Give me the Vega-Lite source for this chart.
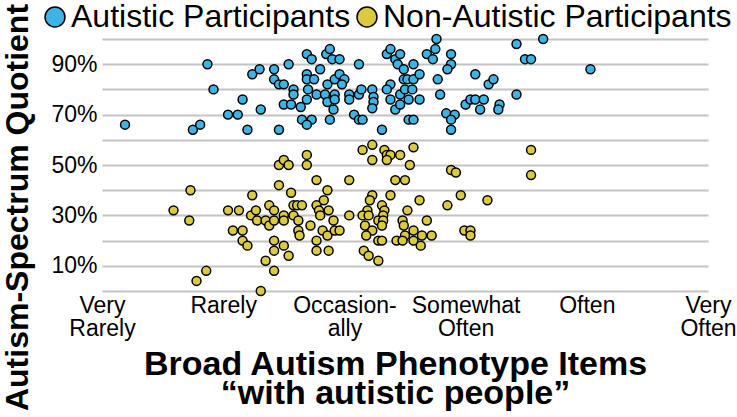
{
  "$schema": "https://vega.github.io/schema/vega-lite/v6.json",
  "width": 606,
  "height": 252,
  "autosize": {"type": "none"},
  "padding": {"left": 102, "top": 39, "right": 29, "bottom": 126},
  "background": "white",
  "config": {"view": {"stroke": null}, "font": "Liberation Sans"},
  "data": {"values": [
    {"group":"Autistic","bap":1.19,"aq":66},{"group":"Autistic","bap":1.75,"aq":64},{"group":"Autistic","bap":1.81,"aq":66},{"group":"Autistic","bap":1.87,"aq":90},{"group":"Autistic","bap":1.92,"aq":80},{"group":"Autistic","bap":2.04,"aq":70},{"group":"Autistic","bap":2.12,"aq":70},{"group":"Autistic","bap":2.16,"aq":76},{"group":"Autistic","bap":2.20,"aq":64},{"group":"Autistic","bap":2.24,"aq":86},{"group":"Autistic","bap":2.30,"aq":88},{"group":"Autistic","bap":2.31,"aq":72},{"group":"Autistic","bap":2.42,"aq":88},{"group":"Autistic","bap":2.42,"aq":84},{"group":"Autistic","bap":2.46,"aq":82},{"group":"Autistic","bap":2.50,"aq":82},{"group":"Autistic","bap":2.46,"aq":64},{"group":"Autistic","bap":2.54,"aq":90},{"group":"Autistic","bap":2.58,"aq":80},{"group":"Autistic","bap":2.58,"aq":78},{"group":"Autistic","bap":2.50,"aq":74},{"group":"Autistic","bap":2.56,"aq":74},{"group":"Autistic","bap":2.64,"aq":73},{"group":"Autistic","bap":2.69,"aq":94},{"group":"Autistic","bap":2.73,"aq":92},{"group":"Autistic","bap":2.69,"aq":86},{"group":"Autistic","bap":2.69,"aq":84},{"group":"Autistic","bap":2.75,"aq":84},{"group":"Autistic","bap":2.70,"aq":80},{"group":"Autistic","bap":2.69,"aq":76},{"group":"Autistic","bap":2.80,"aq":88},{"group":"Autistic","bap":2.77,"aq":78},{"group":"Autistic","bap":2.65,"aq":68},{"group":"Autistic","bap":2.73,"aq":68},{"group":"Autistic","bap":2.69,"aq":66},{"group":"Autistic","bap":2.85,"aq":94},{"group":"Autistic","bap":2.88,"aq":96},{"group":"Autistic","bap":2.90,"aq":92},{"group":"Autistic","bap":2.96,"aq":92},{"group":"Autistic","bap":2.86,"aq":82},{"group":"Autistic","bap":2.84,"aq":78},{"group":"Autistic","bap":2.86,"aq":75},{"group":"Autistic","bap":2.92,"aq":78},{"group":"Autistic","bap":2.92,"aq":76},{"group":"Autistic","bap":2.91,"aq":72},{"group":"Autistic","bap":2.88,"aq":68},{"group":"Autistic","bap":2.92,"aq":84},{"group":"Autistic","bap":2.96,"aq":86},{"group":"Autistic","bap":3.00,"aq":84},{"group":"Autistic","bap":2.98,"aq":82},{"group":"Autistic","bap":3.04,"aq":78},{"group":"Autistic","bap":3.04,"aq":76},{"group":"Autistic","bap":3.08,"aq":70},{"group":"Autistic","bap":3.12,"aq":68},{"group":"Autistic","bap":3.15,"aq":68},{"group":"Autistic","bap":3.12,"aq":90},{"group":"Autistic","bap":3.12,"aq":78},{"group":"Autistic","bap":3.14,"aq":80},{"group":"Autistic","bap":3.23,"aq":80},{"group":"Autistic","bap":3.24,"aq":77},{"group":"Autistic","bap":3.24,"aq":75},{"group":"Autistic","bap":3.23,"aq":72.5},{"group":"Autistic","bap":3.31,"aq":64},{"group":"Autistic","bap":3.35,"aq":94},{"group":"Autistic","bap":3.38,"aq":96},{"group":"Autistic","bap":3.42,"aq":92},{"group":"Autistic","bap":3.46,"aq":94},{"group":"Autistic","bap":3.44,"aq":90},{"group":"Autistic","bap":3.49,"aq":88},{"group":"Autistic","bap":3.38,"aq":82},{"group":"Autistic","bap":3.35,"aq":80},{"group":"Autistic","bap":3.38,"aq":76},{"group":"Autistic","bap":3.42,"aq":72},{"group":"Autistic","bap":3.46,"aq":74},{"group":"Autistic","bap":3.46,"aq":78},{"group":"Autistic","bap":3.49,"aq":84},{"group":"Autistic","bap":3.52,"aq":84},{"group":"Autistic","bap":3.57,"aq":84},{"group":"Autistic","bap":3.50,"aq":80},{"group":"Autistic","bap":3.56,"aq":80},{"group":"Autistic","bap":3.53,"aq":76},{"group":"Autistic","bap":3.62,"aq":76},{"group":"Autistic","bap":3.53,"aq":68},{"group":"Autistic","bap":3.57,"aq":68},{"group":"Autistic","bap":3.57,"aq":90},{"group":"Autistic","bap":3.62,"aq":86},{"group":"Autistic","bap":3.68,"aq":94},{"group":"Autistic","bap":3.73,"aq":92},{"group":"Autistic","bap":3.75,"aq":96},{"group":"Autistic","bap":3.76,"aq":100},{"group":"Autistic","bap":3.77,"aq":84},{"group":"Autistic","bap":3.79,"aq":78},{"group":"Autistic","bap":3.88,"aq":94},{"group":"Autistic","bap":3.88,"aq":90},{"group":"Autistic","bap":3.85,"aq":88},{"group":"Autistic","bap":3.84,"aq":70.5},{"group":"Autistic","bap":3.91,"aq":70},{"group":"Autistic","bap":3.88,"aq":68},{"group":"Autistic","bap":3.88,"aq":64},{"group":"Autistic","bap":4.08,"aq":86},{"group":"Autistic","bap":4.19,"aq":82},{"group":"Autistic","bap":4.23,"aq":84},{"group":"Autistic","bap":4.00,"aq":74},{"group":"Autistic","bap":4.04,"aq":76},{"group":"Autistic","bap":4.08,"aq":76},{"group":"Autistic","bap":4.15,"aq":76},{"group":"Autistic","bap":4.12,"aq":72},{"group":"Autistic","bap":4.28,"aq":74},{"group":"Autistic","bap":4.27,"aq":72},{"group":"Autistic","bap":4.42,"aq":98},{"group":"Autistic","bap":4.64,"aq":100},{"group":"Autistic","bap":4.49,"aq":92},{"group":"Autistic","bap":4.54,"aq":92},{"group":"Autistic","bap":4.42,"aq":78},{"group":"Autistic","bap":5.03,"aq":88},
    {"group":"Non-Autistic","bap":1.59,"aq":32},{"group":"Non-Autistic","bap":1.73,"aq":40},{"group":"Non-Autistic","bap":1.72,"aq":28},{"group":"Non-Autistic","bap":1.78,"aq":4},{"group":"Non-Autistic","bap":1.86,"aq":8},{"group":"Non-Autistic","bap":2.04,"aq":32},{"group":"Non-Autistic","bap":2.13,"aq":32},{"group":"Non-Autistic","bap":2.08,"aq":24},{"group":"Non-Autistic","bap":2.16,"aq":24},{"group":"Non-Autistic","bap":2.16,"aq":20},{"group":"Non-Autistic","bap":2.20,"aq":18},{"group":"Non-Autistic","bap":2.24,"aq":38},{"group":"Non-Autistic","bap":2.23,"aq":30},{"group":"Non-Autistic","bap":2.27,"aq":32},{"group":"Non-Autistic","bap":2.28,"aq":28},{"group":"Non-Autistic","bap":2.35,"aq":28},{"group":"Non-Autistic","bap":2.38,"aq":34},{"group":"Non-Autistic","bap":2.38,"aq":26},{"group":"Non-Autistic","bap":2.42,"aq":32},{"group":"Non-Autistic","bap":2.42,"aq":28},{"group":"Non-Autistic","bap":2.42,"aq":20},{"group":"Non-Autistic","bap":2.42,"aq":16},{"group":"Non-Autistic","bap":2.42,"aq":8},{"group":"Non-Autistic","bap":2.35,"aq":12},{"group":"Non-Autistic","bap":2.31,"aq":0},{"group":"Non-Autistic","bap":2.46,"aq":50},{"group":"Non-Autistic","bap":2.50,"aq":52},{"group":"Non-Autistic","bap":2.54,"aq":50},{"group":"Non-Autistic","bap":2.46,"aq":42},{"group":"Non-Autistic","bap":2.56,"aq":39},{"group":"Non-Autistic","bap":2.50,"aq":30},{"group":"Non-Autistic","bap":2.50,"aq":28},{"group":"Non-Autistic","bap":2.50,"aq":18},{"group":"Non-Autistic","bap":2.54,"aq":14},{"group":"Non-Autistic","bap":2.58,"aq":34},{"group":"Non-Autistic","bap":2.61,"aq":34},{"group":"Non-Autistic","bap":2.65,"aq":34},{"group":"Non-Autistic","bap":2.58,"aq":30},{"group":"Non-Autistic","bap":2.62,"aq":28},{"group":"Non-Autistic","bap":2.62,"aq":24},{"group":"Non-Autistic","bap":2.63,"aq":22},{"group":"Non-Autistic","bap":2.69,"aq":54},{"group":"Non-Autistic","bap":2.69,"aq":50},{"group":"Non-Autistic","bap":2.72,"aq":26},{"group":"Non-Autistic","bap":2.77,"aq":44},{"group":"Non-Autistic","bap":2.77,"aq":34},{"group":"Non-Autistic","bap":2.79,"aq":32},{"group":"Non-Autistic","bap":2.80,"aq":30},{"group":"Non-Autistic","bap":2.83,"aq":36},{"group":"Non-Autistic","bap":2.86,"aq":40},{"group":"Non-Autistic","bap":2.77,"aq":20},{"group":"Non-Autistic","bap":2.77,"aq":16},{"group":"Non-Autistic","bap":2.82,"aq":24},{"group":"Non-Autistic","bap":2.86,"aq":22},{"group":"Non-Autistic","bap":2.87,"aq":32},{"group":"Non-Autistic","bap":2.87,"aq":16},{"group":"Non-Autistic","bap":2.91,"aq":28},{"group":"Non-Autistic","bap":2.92,"aq":24},{"group":"Non-Autistic","bap":2.96,"aq":24},{"group":"Non-Autistic","bap":3.04,"aq":44},{"group":"Non-Autistic","bap":3.04,"aq":30},{"group":"Non-Autistic","bap":3.15,"aq":56},{"group":"Non-Autistic","bap":3.23,"aq":58},{"group":"Non-Autistic","bap":3.23,"aq":52},{"group":"Non-Autistic","bap":3.33,"aq":56},{"group":"Non-Autistic","bap":3.35,"aq":54},{"group":"Non-Autistic","bap":3.38,"aq":54},{"group":"Non-Autistic","bap":3.35,"aq":52},{"group":"Non-Autistic","bap":3.46,"aq":54},{"group":"Non-Autistic","bap":3.54,"aq":50},{"group":"Non-Autistic","bap":3.57,"aq":57},{"group":"Non-Autistic","bap":3.42,"aq":44},{"group":"Non-Autistic","bap":3.50,"aq":44},{"group":"Non-Autistic","bap":3.23,"aq":38},{"group":"Non-Autistic","bap":3.21,"aq":36},{"group":"Non-Autistic","bap":3.38,"aq":38},{"group":"Non-Autistic","bap":3.31,"aq":34},{"group":"Non-Autistic","bap":3.33,"aq":32},{"group":"Non-Autistic","bap":3.19,"aq":32},{"group":"Non-Autistic","bap":3.15,"aq":30},{"group":"Non-Autistic","bap":3.20,"aq":30},{"group":"Non-Autistic","bap":3.32,"aq":30},{"group":"Non-Autistic","bap":3.28,"aq":28},{"group":"Non-Autistic","bap":3.32,"aq":28},{"group":"Non-Autistic","bap":3.17,"aq":26},{"group":"Non-Autistic","bap":3.23,"aq":24},{"group":"Non-Autistic","bap":3.31,"aq":26},{"group":"Non-Autistic","bap":3.18,"aq":22},{"group":"Non-Autistic","bap":3.28,"aq":20},{"group":"Non-Autistic","bap":3.31,"aq":20},{"group":"Non-Autistic","bap":3.16,"aq":16},{"group":"Non-Autistic","bap":3.20,"aq":14},{"group":"Non-Autistic","bap":3.28,"aq":12},{"group":"Non-Autistic","bap":3.52,"aq":32},{"group":"Non-Autistic","bap":3.48,"aq":28},{"group":"Non-Autistic","bap":3.49,"aq":26},{"group":"Non-Autistic","bap":3.62,"aq":36},{"group":"Non-Autistic","bap":3.68,"aq":28},{"group":"Non-Autistic","bap":3.50,"aq":22},{"group":"Non-Autistic","bap":3.57,"aq":24},{"group":"Non-Autistic","bap":3.64,"aq":22},{"group":"Non-Autistic","bap":3.43,"aq":20},{"group":"Non-Autistic","bap":3.48,"aq":20},{"group":"Non-Autistic","bap":3.57,"aq":20},{"group":"Non-Autistic","bap":3.63,"aq":18},{"group":"Non-Autistic","bap":3.72,"aq":22},{"group":"Non-Autistic","bap":3.85,"aq":34},{"group":"Non-Autistic","bap":3.96,"aq":38},{"group":"Non-Autistic","bap":4.18,"aq":36},{"group":"Non-Autistic","bap":3.88,"aq":48},{"group":"Non-Autistic","bap":3.92,"aq":47},{"group":"Non-Autistic","bap":4.54,"aq":56},{"group":"Non-Autistic","bap":4.54,"aq":46},{"group":"Non-Autistic","bap":3.99,"aq":24},{"group":"Non-Autistic","bap":4.04,"aq":24},{"group":"Non-Autistic","bap":4.04,"aq":22}
  ]},
  "mark": {"type": "point", "filled": true, "shape": "circle", "size": 80, "stroke": "black", "strokeWidth": 1.5, "opacity": 1},
  "encoding": {
    "x": {"field": "bap", "type": "quantitative", "scale": {"domain": [1, 6], "nice": false, "zero": false},
      "axis": {"values": [1,2,3,4,5,6], "grid": false, "domain": false, "ticks": false,
        "labelExpr": "datum.value == 1 ? ['Very','Rarely'] : datum.value == 2 ? 'Rarely' : datum.value == 3 ? ['Occasion-','ally'] : datum.value == 4 ? ['Somewhat','Often'] : datum.value == 5 ? 'Often' : ['Very','Often']",
        "labelFontSize": 23, "labelLineHeight": 23, "labelPadding": 3, "labelColor": "black", "labelAlign": "center", "labelBaseline": "top", "labelFlush": false, "labelOverlap": false, "labelBound": false,
        "title": ["Broad Autism Phenotype Items", "“with autistic people”"], "titleFontSize": 34, "titleFontWeight": "bold", "titleLineHeight": 29, "titleColor": "black", "titleX": 293, "titleY": 56, "titleBaseline": "top", "titleAlign": "center"}},
    "y": {"field": "aq", "type": "quantitative", "scale": {"domain": [0, 100], "nice": false},
      "axis": {"values": [0,10,20,30,40,50,60,70,80,90,100], "grid": true, "gridColor": "#c4c4c4", "gridWidth": 1.8, "domain": false, "ticks": false,
        "labelExpr": "datum.value % 20 == 10 ? datum.value + '%' : ''", "labelFontSize": 23, "labelPadding": 5, "labelColor": "black",
        "title": "Autism-Spectrum Quotient", "titleFontSize": 32, "titleFontWeight": "bold", "titleColor": "black", "titleX": -75, "titleY": 168, "titleBaseline": "alphabetic", "titleAlign": "center"}},
    "color": {"field": "group", "type": "nominal",
      "scale": {"domain": ["Autistic", "Non-Autistic"], "range": ["#3cb4e5", "#dbc93e"]},
      "legend": {"orient": "none", "legendX": -63, "legendY": -38, "direction": "horizontal", "title": null, "labelExpr": "datum.label + ' Participants'", "labelFontSize": 32, "labelColor": "black", "labelLimit": 500, "symbolSize": 400, "symbolType": "circle", "symbolStrokeColor": "black", "symbolStrokeWidth": 1.5, "symbolOpacity": 1, "labelOffset": 0, "columnPadding": 0, "padding": 0}}
  }
}
